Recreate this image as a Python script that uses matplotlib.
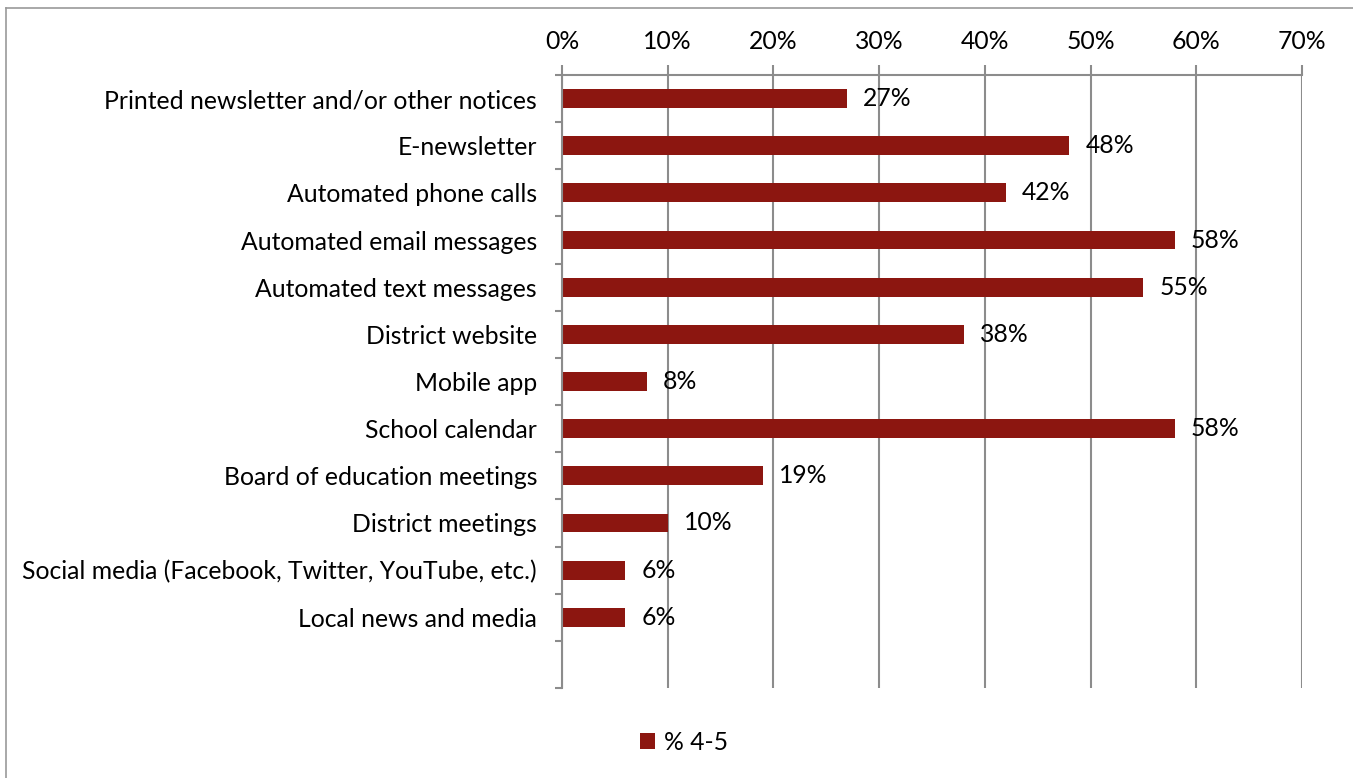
import matplotlib.pyplot as plt
from matplotlib.lines import Line2D
from matplotlib.ticker import FixedLocator

categories = [
    "Printed newsletter and/or other notices",
    "E-newsletter",
    "Automated phone calls",
    "Automated email messages",
    "Automated text messages",
    "District website",
    "Mobile app",
    "School calendar",
    "Board of education meetings",
    "District meetings",
    "Social media (Facebook, Twitter, YouTube, etc.)",
    "Local news and media",
]
pct_4_5 = [27, 48, 42, 58, 55, 38, 8, 58, 19, 10, 6, 6]
x_ticks = [0, 10, 20, 30, 40, 50, 60, 70]

bar_color = "#8C1610"
grid_color = "#8c8c8c"
fs = 17.8

plt.rcParams["font.family"] = ["Lato", "DejaVu Sans"]

fig = plt.figure(figsize=(13.53, 7.78), dpi=100)
ax = fig.add_axes([562 / 1353, 1 - 688 / 778, 740 / 1353, 613 / 778])

n_slots = len(categories) + 1  # one empty slot under the last bar
ypos = list(range(len(categories)))
ax.barh(ypos, pct_4_5, height=0.4, color=bar_color, zorder=2, label="% 4-5")
for y, v in zip(ypos, pct_4_5):
    ax.text(v + 1.5, y, f"{v}%", va="center", ha="left", fontsize=fs, zorder=3)

ax.set_xlim(0, 70)
ax.set_ylim(n_slots - 0.5, -0.5)
ax.set_xticks(x_ticks)
ax.set_xticklabels([f"{t}%" for t in x_ticks], fontsize=fs)
ax.set_yticks(ypos)
ax.set_yticklabels(categories, fontsize=fs)
ax.yaxis.set_minor_locator(FixedLocator([i - 0.5 for i in range(n_slots + 1)]))

ax.xaxis.tick_top()
ax.tick_params(axis="x", which="major", length=7, width=1.5, color=grid_color, pad=9)
ax.tick_params(axis="y", which="major", length=0, pad=18)
ax.tick_params(axis="y", which="minor", length=5, width=1.5, color=grid_color)
ax.grid(axis="x", color=grid_color, linewidth=1.5, zorder=0)

for side in ("right", "bottom"):
    ax.spines[side].set_visible(False)
for side in ("left", "top"):
    ax.spines[side].set_color(grid_color)
    ax.spines[side].set_linewidth(1.5)

# outer chart frame
fig.add_artist(Line2D([6 / 1353, 1.0], [1 - 8 / 778] * 2, color="#999999", lw=1.2))
fig.add_artist(Line2D([6 / 1353] * 2, [0.0, 1 - 8 / 778], color="#999999", lw=1.2))

fig.legend(loc="center", bbox_to_anchor=(684 / 1353, 1 - 742 / 778), frameon=False,
           fontsize=fs, handlelength=0.6, handleheight=0.6, handletextpad=0.35)

fig.savefig("out.png", dpi=100)
